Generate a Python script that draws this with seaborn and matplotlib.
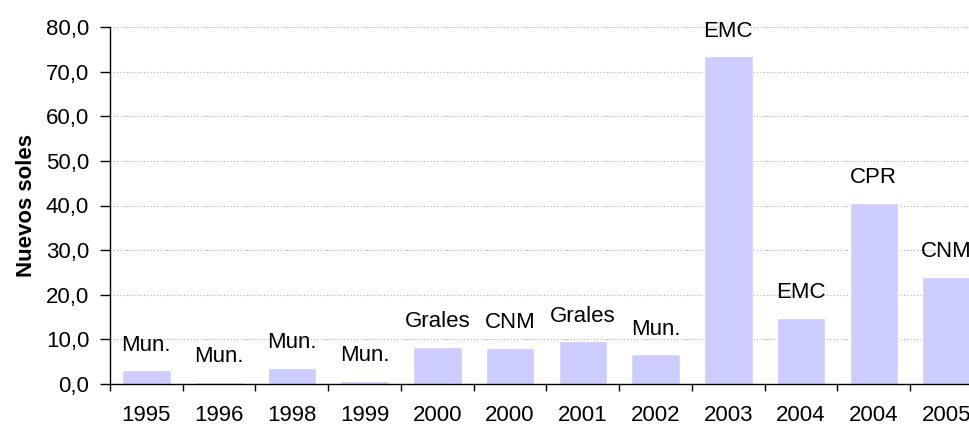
import numpy as np
import pandas as pd
import matplotlib
matplotlib.use('Agg')
import matplotlib.pyplot as plt
import seaborn as sns

# Data
years = ['1995', '1996', '1998', '1999', '2000', '2000', '2001', '2002',
         '2003', '2004', '2004', '2005']
values = [3.1, 0.5, 3.6, 0.7, 8.3, 8.1, 9.6, 6.7, 73.5, 14.8, 40.6, 24.0]
labels = ['Mun.', 'Mun.', 'Mun.', 'Mun.', 'Grales', 'CNM', 'Grales', 'Mun.',
          'EMC', 'EMC', 'CPR', 'CNM']

sns.set_style('white')
plt.rcParams['font.family'] = ['Liberation Sans', 'DejaVu Sans']
plt.rcParams['text.color'] = 'black'
plt.rcParams['axes.labelcolor'] = 'black'
plt.rcParams['xtick.color'] = 'black'
plt.rcParams['ytick.color'] = 'black'

df = pd.DataFrame({'pos': range(len(years)), 'valor': values})

fig = plt.figure(figsize=(9.7, 4.25), dpi=100)
ax = fig.add_axes([110 / 970, 41 / 425, 873 / 970, 357 / 425])

sns.barplot(data=df, x='pos', y='valor', color='#CCCCFF', saturation=1,
            width=0.67, ax=ax, zorder=2)

# labels above bars
for i, (v, lab) in enumerate(zip(values, labels)):
    ax.annotate(lab, (i, v), xytext=(0, 18), textcoords='offset points',
                ha='center', va='center', fontsize=16, zorder=3)

ax.set_ylim(0, 80)
ax.set_xlim(-0.5, len(years) - 0.5)
ax.set_yticks(np.arange(0, 81, 10))
ax.set_yticklabels([f'{t:.1f}'.replace('.', ',') for t in np.arange(0, 81, 10)],
                   fontsize=16)
ax.yaxis.grid(True, linestyle=(0, (1, 2)), color='#b0b0b0', linewidth=0.8, zorder=0)
ax.xaxis.grid(False)

ax.set_xticks(range(len(years)))
ax.set_xticklabels(years, fontsize=16)
ax.set_xticks(np.arange(-0.5, len(years), 1), minor=True)
ax.tick_params(axis='x', which='major', length=0, pad=15, bottom=True)
ax.tick_params(axis='x', which='minor', length=5, width=1, color='black',
               direction='out', bottom=True)
ax.tick_params(axis='y', length=7, width=1, color='black', direction='out',
               pad=8, left=True)

ax.set_xlabel('')
ax.set_ylabel('Nuevos soles', fontsize=16, fontweight='bold', labelpad=6)

for s in ['top', 'right']:
    ax.spines[s].set_visible(False)
for s in ['left', 'bottom']:
    ax.spines[s].set_color('black')
    ax.spines[s].set_linewidth(1)

fig.savefig('out.png', dpi=100)
